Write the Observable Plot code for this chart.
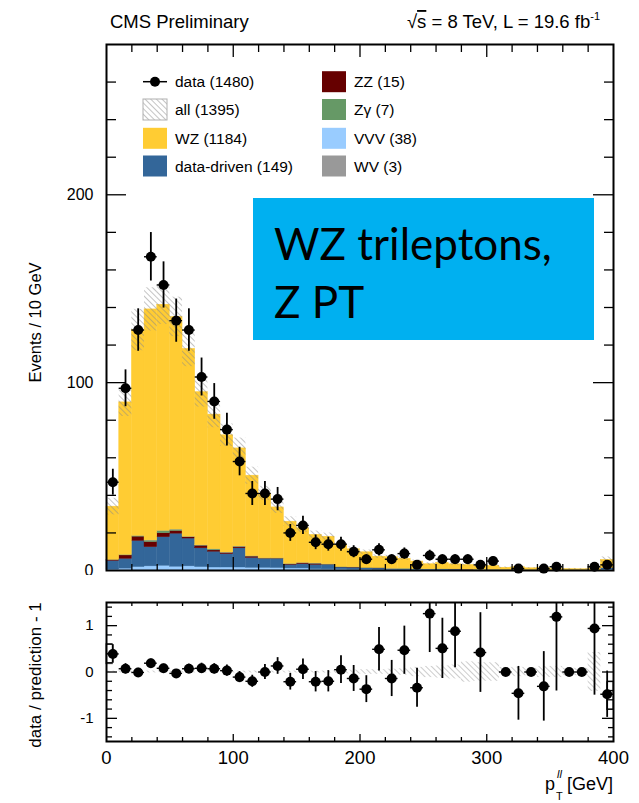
<!DOCTYPE html>
<html><head><meta charset="utf-8">
<script src="https://cdn.jsdelivr.net/npm/d3@7"></script>
<script src="https://cdn.jsdelivr.net/npm/@observablehq/plot@0.6"></script>
<style>
html,body{margin:0;padding:0;background:#fff;}
#wrap{position:relative;width:639px;height:803px;overflow:hidden;font-family:"Liberation Sans",Arial,Helvetica,sans-serif;color:#000;}
#main{position:absolute;left:0;top:0;}
#ratio{position:absolute;left:0;top:575px;}
#overlay{position:absolute;left:0;top:0;pointer-events:none;}
</style></head>
<body><div id="wrap">
<div id="main"></div><div id="ratio"></div>
<svg id="overlay" width="639" height="803"></svg>
</div>
<script>
// ---------------- data ----------------
const binWidth = 10;
const binLo = [0,10,20,30,40,50,60,70,80,90,100,110,120,130,140,150,160,170,180,190,
               200,210,220,230,240,250,260,270,280,290,300,310,320,330,340,350,360,370,380,390];
const dataN = [47,97,128,167,152,133,128,103,90,75,58,41,41,38,20,24,15,14,14,10,
               6,11,6,9,3,8,6,6,6,3,5,0,1,0,1,2,0,0,2,3];
const dataErr = [6.9,9.8,11.3,12.9,12.3,11.5,11.3,10.1,9.5,8.7,7.6,6.4,6.4,6.2,4.5,4.9,3.9,3.7,3.7,3.2,
                 2.4,3.3,2.4,3,1.7,2.8,2.4,2.4,2.4,1.7,2.2,0,1,0,1,1.4,0,0,1.4,1.7];
const wz = [28.3,81.2,109.6,123,120.4,113.2,100,81.6,71.7,62.4,52.2,42.9,34.5,27.1,22.5,18.4,15.2,14.7,11.9,9.6,
            8.3,6.1,6.2,5.35,4.1,2.8,3.45,2.7,2.5,1.8,2.1,1.15,1.55,0.95,1.2,0.72,0.6,0.5,0.83,4.4];
const dataDriven = [4.6,5.2,13.9,10.2,15.2,17.6,14.8,10,8.4,7.1,10.2,5.3,4.6,4.7,1.9,2.3,2.3,2.3,1.0,1.0,
                    0.7,0.7,0.5,0.5,0.3,0.3,0.3,0.3,0.2,0.2,0.2,0.2,0.1,0.1,0.1,0.1,0.1,0.1,0.1,0.8];
const vvv = [0.5,1.0,1.8,2.2,2.5,2.0,2.2,1.8,1.6,1.6,1.6,1.4,1.4,1.3,1.1,1.1,0.7,0.6,0.6,0.5,
             0.5,0.4,0.4,0.35,0.3,0.3,0.3,0.25,0.25,0.2,0.2,0.15,0.15,0.15,0.1,0.1,0.1,0.1,0.1,0.4];
const zz = [0.5,1.8,2.3,2.7,2.1,1.4,0.7,1.4,0.7,0.7,0.7,0.7,0.3,0.3,0.3,0.5,0.6,0.2,0.1,0.1,
            0.1,0.1,0,0,0,0,0,0.05,0.05,0,0,0,0,0,0,0,0,0,0,0.1];
const zgamma = [0.1,0.2,0.3,0.8,1.2,0.7,0.2,0.1,0.5,0.1,0.2,0.1,0.1,0.1,0.1,0.1,0.1,0.1,0.1,0.1,
                0.1,0.1,0,0.1,0.1,0,0.05,0,0,0,0,0,0,0,0,0,0,0,0,0];
const wv = [0,0.1,0.1,0.1,0.1,0.1,0.1,0.1,0.1,0.1,0.1,0.1,0.1,0.1,0.1,0.1,0.1,0.1,0,0,
            0,0,0,0,0,0,0,0,0,0,0,0,0,0,0,0,0,0,0,0];
const bandErr = [4.4,7.5,11,11.5,10.5,10.5,9.5,8,7,6,5.5,4.5,3.8,3.2,2.6,2.3,2,1.9,1.5,1.3,
                 1.2,1,1,0.9,0.8,0.7,0.7,0.6,0.6,0.5,0.5,0.4,0.4,0.3,0.3,0.3,0.3,0.3,0.4,1.5];
const ratio = [0.39,0.07,-0.01,0.19,0.08,-0.03,0.07,0.08,0.07,0.03,-0.11,-0.2,0.0,0.13,-0.21,0.06,-0.21,-0.2,0.05,-0.14,
               -0.37,0.49,-0.14,0.47,-0.34,1.26,0.51,0.88,null,0.42,null,0,-0.46,0,-0.31,1.19,0,0,0.94,-0.48];
const ratioErr = [0.2,0.11,0.09,0.09,0.09,0.085,0.1,0.11,0.11,0.12,0.12,0.13,0.16,0.18,0.18,0.22,0.22,0.23,0.3,0.28,
                  0.29,0.47,0.39,0.52,0.42,0.84,0.65,0.79,null,0.86,null,0,0.58,0,0.75,1.6,0,0,1.44,0.5];
const ratioBand = [0.02,0.02,0.02,0.02,0.02,0.02,0.02,0.02,0.02,0.02,0.02,0.02,0.02,0.02,0.02,0.02,0.02,0.02,0.03,0.04,
                   0.05,0.05,0.06,0.07,0.1,0.12,0.13,0.15,0.22,0.2,0.2,0.1,0.1,0.08,0.12,0.12,0.08,0.08,0.42,0];
const ratioBoxX1 = [0, 395], ratioBoxX2 = [5, 400], ratioBoxLo = [0.17, -0.82], ratioBoxHi = [0.6, -0.22];

const stackNames  = ["VVV","data-driven","ZZ","Zγ","WV","WZ"];
const stackColors = ["#99ccff","#336699","#660000","#669966","#999999","#ffcc33"];
const legendLeft  = [["data",1480],["all",1395],["WZ",1184],["data-driven",149]];
const legendRight = [["ZZ",15],["Zγ",7],["VVV",38],["WV",3]];

const xDomain = [0, 400], yMainDomain = [0, 280], yRatioDomain = [-1.5, 1.5];
const xLabelTicks = [0,100,200,300,400];
const yMainLabelTicks = [0,100,200];
const yRatioLabelTicks = [-1,0,1];

// ---------------- layout ----------------
const W = 639, mL = 106, mR = 26;
const pxX = (W - mL - mR) / (xDomain[1] - xDomain[0]);
const mainH = 575, mainMT = 44, mainMB = 5;
const pxYm = (mainH - mainMT - mainMB) / (yMainDomain[1] - yMainDomain[0]);
const ratH = 228, ratMT = 27, ratMB = 62;
const pxYr = (ratH - ratMT - ratMB) / (yRatioDomain[1] - yRatioDomain[0]);
const FONT = "Liberation Sans, Arial, Helvetica, sans-serif";

const stackVals = [vvv, dataDriven, zz, zgamma, wv, wz];
const stackRows = [];
stackNames.forEach((s, k) => binLo.forEach((lo, i) => {
  if (stackVals[k][i] > 0) stackRows.push({lo, hi: lo + binWidth, v: stackVals[k][i], s});
}));
const rows = binLo.map((lo, i) => ({
  lo, hi: lo + binWidth, xc: lo + binWidth / 2,
  n: dataN[i], e: dataErr[i],
  tot: d3.sum(stackVals, a => a[i]), band: bandErr[i],
  r: ratio[i], re: ratioErr[i], rb: ratioBand[i]
}));
const dataRows = rows.filter(d => d.n > 0);
const ratioRows = rows.filter(d => d.r !== null);
const boxes = ratioBoxX1.map((x1, i) => ({x1, x2: ratioBoxX2[i], y1: ratioBoxLo[i], y2: ratioBoxHi[i]}));

function tickMarks(domX, domY, pxx, pxy, t) {
  const marks = [];
  const [x0, x1] = domX, [y0, y1] = domY;
  const ly = (ticks, L, side) => Plot.ruleY(ticks, {y: d => d,
      x1: side === "l" ? x0 : x1 - L / pxx, x2: side === "l" ? x0 + L / pxx : x1,
      stroke: "black", strokeWidth: 1.3});
  const lx = (ticks, L, side) => Plot.ruleX(ticks, {x: d => d,
      y1: side === "b" ? y0 : y1 - L / pxy, y2: side === "b" ? y0 + L / pxy : y1,
      stroke: "black", strokeWidth: 1.3});
  marks.push(ly(t.yMaj, t.yMajL, "l"), ly(t.yMin, t.yMinL, "l"),
             ly(t.yMaj, t.yMajR, "r"), ly(t.yMin, t.yMinR, "r"),
             lx(t.xMaj, t.xMajL, "b"), lx(t.xMin, t.xMinL, "b"),
             lx(t.xMaj, t.xTopMajL, "t"), lx(t.xMin, t.xTopMinL, "t"));
  return marks;
}
const xMinorTicks = d3.range(20, 400, 20).filter(v => v % 100 !== 0);
const xMajorTicks = [100, 200, 300];

function addHatch(svgNode, id, spacing, color, width) {
  const defs = d3.select(svgNode).insert("defs", ":first-child");
  const p = defs.append("pattern").attr("id", id).attr("patternUnits", "userSpaceOnUse")
    .attr("width", spacing).attr("height", spacing).attr("patternTransform", "rotate(-45)");
  p.append("line").attr("x1", 0).attr("y1", 0).attr("x2", 0).attr("y2", spacing)
    .attr("stroke", color).attr("stroke-width", width);
}

// ---------------- main panel ----------------
const mainPlot = Plot.plot({
  width: W, height: mainH, marginTop: mainMT, marginBottom: mainMB, marginLeft: mL, marginRight: mR,
  style: {fontFamily: FONT, color: "black", background: "white", overflow: "visible"},
  x: {domain: xDomain, axis: null},
  y: {domain: yMainDomain},
  color: {domain: stackNames, range: stackColors},
  marks: [
    Plot.rectY(stackRows, {x1: "lo", x2: "hi", y: "v", fill: "s", stroke: "s", strokeWidth: 0.4, order: stackNames}),
    Plot.rect(rows, {x1: "lo", x2: "hi", y1: d => d.tot - d.band, y2: d => d.tot + d.band, fill: "url(#hatchM)"}),
    Plot.ruleX(dataRows, {x: "xc", y1: d => Math.max(0, d.n - d.e), y2: d => Math.min(280, d.n + d.e), stroke: "black", strokeWidth: 1.8}),
    Plot.ruleY(dataRows, {y: "n", x1: "lo", x2: "hi", stroke: "black", strokeWidth: 1.4}),
    Plot.dot(dataRows, {x: "xc", y: "n", r: 5, fill: "black", stroke: "none"}),
    ...tickMarks(xDomain, yMainDomain, pxX, pxYm, {
      yMaj: [100, 200], yMin: d3.range(20, 280, 20).filter(v => v % 100 !== 0),
      yMajL: 20, yMinL: 10, yMajR: 20, yMinR: 9,
      xMaj: xMajorTicks, xMin: xMinorTicks, xMajL: 13, xMinL: 6, xTopMajL: 13, xTopMinL: 8}),
    Plot.axisY({ticks: yMainLabelTicks, tickSize: 0, tickPadding: 13, fontSize: 16, label: null, tickFormat: d => String(d)}),
    Plot.text(["Events / 10 GeV"], {text: d => d, frameAnchor: "left", rotate: -90, dx: -71, dy: 15, fontSize: 16.5, textAnchor: "middle"}),
    Plot.frame({stroke: "black", strokeWidth: 2})
  ]
});
addHatch(mainPlot, "hatchM", 4, "#8a8a8a", 1);
document.getElementById("main").appendChild(mainPlot);

// ---------------- ratio panel ----------------
const rYlo = yRatioDomain[0], rYhi = yRatioDomain[1];
const ratioPlot = Plot.plot({
  width: W, height: ratH, marginTop: ratMT, marginBottom: ratMB, marginLeft: mL, marginRight: mR,
  style: {fontFamily: FONT, color: "black", background: "white", overflow: "visible"},
  x: {domain: xDomain},
  y: {domain: yRatioDomain},
  marks: [
    Plot.rect(rows, {x1: "lo", x2: "hi", y1: d => -d.rb, y2: d => d.rb, fill: "url(#hatchR)"}),
    Plot.rect(boxes, {x1: "x1", x2: "x2", y1: "y1", y2: "y2", fill: "none", stroke: "#444", strokeWidth: 1}),
    Plot.ruleX(ratioRows, {x: "xc", y1: d => Math.max(rYlo, d.r - d.re), y2: d => Math.min(rYhi, d.r + d.re), stroke: "black", strokeWidth: 1.8}),
    Plot.ruleY(ratioRows, {y: "r", x1: "lo", x2: "hi", stroke: "black", strokeWidth: 1.4}),
    Plot.dot(ratioRows, {x: "xc", y: "r", r: 5, fill: "black", stroke: "none"}),
    ...tickMarks(xDomain, yRatioDomain, pxX, pxYr, {
      yMaj: [-1, 0, 1], yMin: [-1.4,-1.2,-0.8,-0.6,-0.4,-0.2,0.2,0.4,0.6,0.8,1.2,1.4],
      yMajL: 11, yMinL: 6, yMajR: 11, yMinR: 5,
      xMaj: xMajorTicks, xMin: xMinorTicks, xMajL: 7, xMinL: 4, xTopMajL: 7, xTopMinL: 4}),
    Plot.axisX({ticks: xLabelTicks, tickSize: 0, tickPadding: 9, fontSize: 18.5, label: null, tickFormat: d => String(d)}),
    Plot.axisY({ticks: yRatioLabelTicks, tickSize: 0, tickPadding: 13, fontSize: 15, label: null, tickFormat: d => String(d)}),
    Plot.text(["data / prediction - 1"], {text: d => d, frameAnchor: "left", rotate: -90, dx: -71, dy: 3, fontSize: 17, textAnchor: "middle"}),
    Plot.frame({stroke: "black", strokeWidth: 2})
  ]
});
addHatch(ratioPlot, "hatchR", 4, "#9a9a9a", 1);
document.getElementById("ratio").appendChild(ratioPlot);

// ---------------- overlay: titles, legend, text box, x label ----------------
const ov = d3.select("#overlay").style("font-family", FONT);
addHatch(ov.node(), "hatchL", 4, "#8a8a8a", 1);

ov.append("text").attr("x", 110).attr("y", 28).attr("font-size", 18.5).text("CMS Preliminary");
const rt = ov.append("text").attr("x", 600).attr("y", 28).attr("font-size", 18.5).attr("text-anchor", "end");
rt.append("tspan").text("√");
rt.append("tspan").attr("text-decoration", "overline").text("s");
rt.append("tspan").text(" = 8 TeV, L = 19.6 fb");
rt.append("tspan").attr("dy", -8).attr("font-size", 11).text("-1");

const rowY = [81.7, 109.5, 138.3, 166];
const colorOf = n => stackColors[stackNames.indexOf(n)];
function legendEntry(x, tx, y, name, count) {
  if (name === "data") {
    ov.append("line").attr("x1", x).attr("x2", x + 24).attr("y1", y).attr("y2", y).attr("stroke", "black").attr("stroke-width", 1.5);
    ov.append("circle").attr("cx", x + 12).attr("cy", y).attr("r", 5).attr("fill", "black");
  } else if (name === "all") {
    ov.append("rect").attr("x", x).attr("y", y - 10.5).attr("width", 24).attr("height", 21)
      .attr("fill", "url(#hatchL)").attr("stroke", "#b0b0b0").attr("stroke-width", 1);
  } else {
    ov.append("rect").attr("x", x).attr("y", y - 10.5).attr("width", 24).attr("height", 21).attr("fill", colorOf(name));
  }
  ov.append("text").attr("x", tx).attr("y", y + 5.5).attr("font-size", 15.5).text(`${name} (${count})`);
}
legendLeft.forEach(([n, c], i) => legendEntry(143, 175, rowY[i], n, c));
legendRight.forEach(([n, c], i) => legendEntry(322, 354, rowY[i], n, c));

ov.append("rect").attr("x", 253).attr("y", 198).attr("width", 341).attr("height", 142).attr("fill", "#00b0f0");
ov.append("text").attr("x", 274).attr("y", 260).attr("font-family", "Lato, 'Open Sans', sans-serif").attr("font-size", 44).text("WZ trileptons,");
ov.append("text").attr("x", 274).attr("y", 318).attr("font-family", "Lato, 'Open Sans', sans-serif").attr("font-size", 44).text("Z PT");

ov.append("text").attr("x", 545).attr("y", 790).attr("font-size", 18).text("p");
ov.append("text").attr("x", 557).attr("y", 778).attr("font-size", 11).attr("font-style", "italic").text("ll");
ov.append("text").attr("x", 556).attr("y", 800).attr("font-size", 11).text("T");
ov.append("text").attr("x", 613).attr("y", 790).attr("font-size", 18).attr("text-anchor", "end").text("[GeV]");
</script>
</body></html>
